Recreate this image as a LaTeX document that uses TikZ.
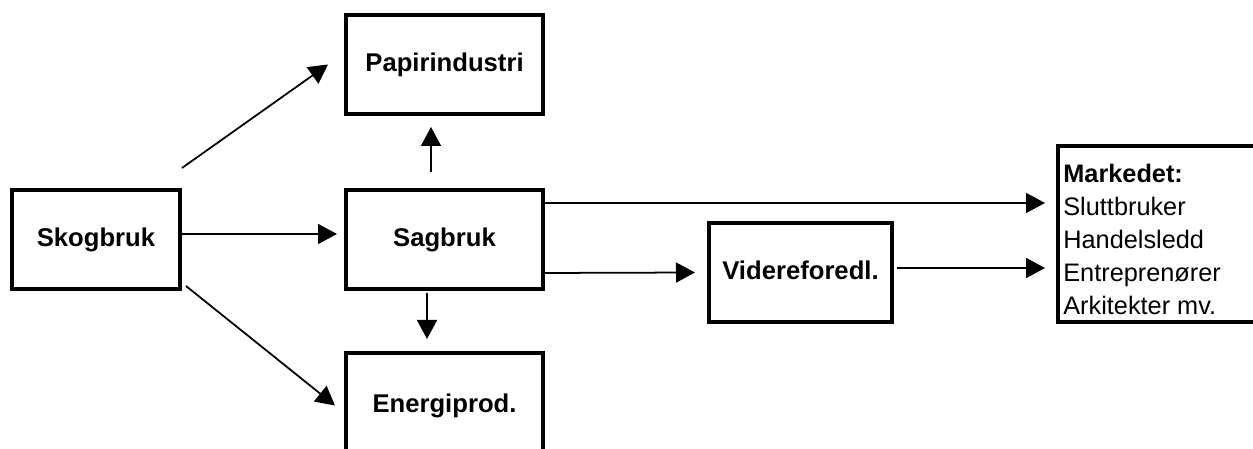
\documentclass[tikz,border=0pt]{standalone}
\usepackage{fontspec}
\setmainfont{Liberation Sans}
\usetikzlibrary{arrows.meta}
\begin{document}
\begin{tikzpicture}[
    boks/.style={draw, line width=2pt, outer sep=0pt, minimum width=3.94cm, minimum height=1.98cm,
        text height=0.97em, text depth=0.21em, font=\fontsize{14.6}{17}\selectfont\bfseries},
    pil/.style={->, line width=1pt},
    >={Triangle[length=0.38cm,width=0.4cm]}]
\useasboundingbox (0,0) rectangle (25.06,8.98);
\clip (0,0) rectangle (25.06,8.98);
    \node (skog) at (1.92,4.19) [boks, minimum width=3.36cm] {Skogbruk};
    \node (papir) at (8.89,7.69) [boks] {Papirindustri};
    \node (sag) at (8.89,4.19) [boks] {Sagbruk};
    \node (energi) at (8.89,0.87) [boks, minimum height=2.1cm] {Energiprod.};
    \node (videre) at (16.01,3.53) [boks, minimum width=3.66cm] {Videreforedl.};
    \node (marked) at (21.16,6.06) [boks, anchor=north west, minimum width=4.1cm, minimum height=3.52cm] {};
    \node (markedtekst) at ([xshift=0.1cm,yshift=-0.36cm]marked.north west) [anchor=north west, inner sep=0pt, align=left,
        font=\fontsize{14.4}{18.8}\selectfont]
        {\textbf{Markedet:}\\Sluttbruker\\Handelsledd\\Entreprenører\\Arkitekter mv.};
%    skog
\draw[pil] ([xshift=0.04cm,yshift=0.44cm]skog.north east) -- ([xshift=-0.36cm]papir.west);
\draw[pil] ([yshift=0.11cm]skog.east) -- ([xshift=-0.18cm,yshift=0.11cm]sag.west);
\draw[pil] ([xshift=0.12cm,yshift=0.06cm]skog.south east) -- ([xshift=-0.22cm]energi.west);
%    sag
\draw[pil] ([xshift=-0.27cm,yshift=0.36cm]sag.north) -- ([xshift=-0.27cm,yshift=-0.26cm]papir.south);
\draw[pil] ([xshift=-0.35cm,yshift=-0.08cm]sag.south) -- ([xshift=-0.35cm,yshift=0.28cm]energi.north);
\draw[pil] ([yshift=-0.26cm]sag.north east) -- ([xshift=-0.26cm,yshift=0.62cm]marked.west);
\draw[pil] ([yshift=0.32cm]sag.south east) -- ([xshift=-0.28cm]videre.west);
%    videre
\draw[pil] ([xshift=0.1cm,yshift=0.09cm]videre.east) -- ([xshift=-0.26cm,yshift=-0.68cm]marked.west);
\end{tikzpicture}
\end{document}
